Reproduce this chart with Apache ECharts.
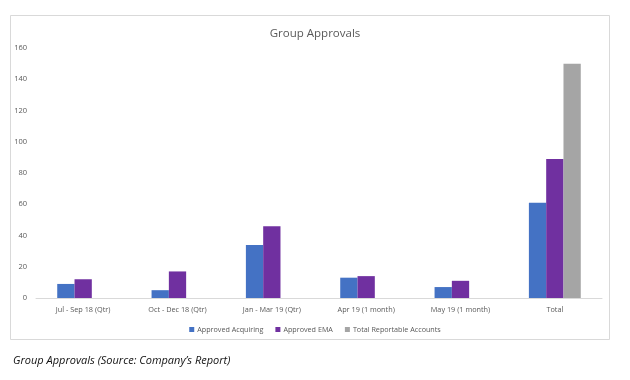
<!DOCTYPE html>
<html>
<head>
<meta charset="utf-8">
<script src="https://cdn.jsdelivr.net/npm/echarts@6/dist/echarts.min.js"></script>
<style>
html,body{margin:0;padding:0;background:#fff;}
#c{width:630px;height:380px;}
</style>
</head>
<body>
<div id="c"></div>
<script>
var categories = ['Jul - Sep 18 (Qtr)', 'Oct - Dec 18 (Qtr)', 'Jan - Mar 19 (Qtr)', 'Apr 19 (1 month)', 'May 19 (1 month)', 'Total'];
var approvedAcquiring = [9, 5, 34, 13, 7, 61];
var approvedEMA = [12, 17, 46, 14, 11, 89];
var totalReportable = [0, 0, 0, 0, 0, 150];
var yTicks = [0, 20, 40, 60, 80, 100, 120, 140, 160];

var font = 'Open Sans, Liberation Sans, sans-serif';
var chart = echarts.init(document.getElementById('c'));
chart.setOption({
  animation: false,
  backgroundColor: '#fff',
  title: [{
    text: 'Group Approvals',
    left: 310, top: 23, textAlign: 'center',
    textStyle: {fontFamily: font, fontSize: 11.5, fontWeight: 'normal', color: '#595959'}
  }, {
    text: 'Group Approvals (Source: Company\u2019s Report)',
    left: 8, top: 350,
    textStyle: {fontFamily: font, fontSize: 11, fontStyle: 'italic', fontWeight: 'normal', color: '#111'}
  }],
  graphic: [{
    type: 'rect', silent: true, z: -1,
    shape: {x: 10.5, y: 15.5, width: 599, height: 324},
    style: {fill: 'none', stroke: '#d9d9d9', lineWidth: 1}
  }],
  legend: {
    data: ['Approved Acquiring', 'Approved EMA', 'Total Reportable Accounts'],
    left: 'center', top: 321,
    itemWidth: 5, itemHeight: 5, itemGap: 12,
    icon: 'rect',
    textStyle: {fontFamily: font, fontSize: 7.2, color: '#595959', padding: [0, 0, 0, -2]}
  },
  grid: {left: 36, right: 28, top: 48, bottom: 82, containLabel: false},
  xAxis: {
    type: 'category', data: categories,
    axisLine: {lineStyle: {color: '#d9d9d9'}},
    axisTick: {show: false},
    axisLabel: {fontFamily: font, fontSize: 7.3, color: '#595959', margin: 8, interval: 0}
  },
  yAxis: {
    type: 'value', min: 0, max: 160, interval: 20,
    axisLine: {show: false}, axisTick: {show: false},
    splitLine: {show: false},
    axisLabel: {fontFamily: font, fontSize: 7.5, color: '#595959', margin: 9,
      formatter: function(v){ return yTicks.indexOf(v) >= 0 ? String(v) : ''; }}
  },
  series: [
    {name: 'Approved Acquiring', type: 'bar', data: approvedAcquiring, itemStyle: {color: '#4472C4'}, barGap: '0%', barCategoryGap: '45%'},
    {name: 'Approved EMA', type: 'bar', data: approvedEMA, itemStyle: {color: '#7030A0'}},
    {name: 'Total Reportable Accounts', type: 'bar', data: totalReportable, itemStyle: {color: '#A5A5A5'}}
  ]
});
</script>
</body>
</html>
